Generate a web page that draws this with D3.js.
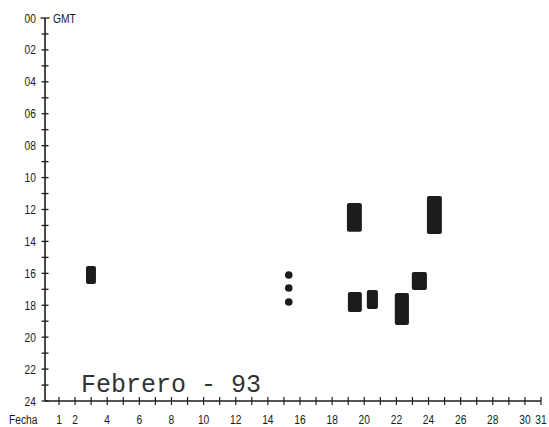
<!DOCTYPE html>
<html>
<head>
<meta charset="utf-8">
<script src="https://cdn.jsdelivr.net/npm/d3@7"></script>
<style>
  html, body { margin: 0; padding: 0; background: #fff; }
  svg { display: block; }
  .lbl { font-family: "Liberation Sans", Arial, sans-serif; font-size: 12.5px; fill: #1a1a1a; }
  .title { font-family: "Liberation Mono", "DejaVu Sans Mono", monospace; font-size: 25px; fill: #333; }
</style>
</head>
<body>
<svg id="chart" width="549" height="427"></svg>
<script>
// Observation periods, February 1993 (day of month, GMT hours)
const blockDayFrom  = [2.68, 18.92, 23.9, 18.98, 20.16, 21.9, 22.96];
const blockDayTo    = [3.30, 19.85, 24.83, 19.85, 20.85, 22.78, 23.9];
const blockHourFrom = [15.54, 11.6, 11.15, 17.17, 17.04, 17.23, 15.91];
const blockHourTo   = [16.67, 13.4, 13.53, 18.42, 18.23, 19.24, 17.04];

// Isolated single observations
const dotDays  = [15.3, 15.3, 15.3];
const dotHours = [16.1, 16.92, 17.8];

// Axis ticks and labels
const dayTicks   = d3.range(1, 32);
const dayLabels  = [1, 2, 4, 6, 8, 10, 12, 14, 16, 18, 20, 22, 24, 26, 28, 30, 31];
const hourTicks  = d3.range(0, 25);
const hourLabels = ["00","02","04","06","08","10","12","14","16","18","20","22","24"];

const titleText = "Febrero - 93";

const svg = d3.select("#chart");
const x = d3.scaleLinear().domain([1, 31]).range([59, 541]);
const y = d3.scaleLinear().domain([0, 24]).range([18, 401]);
const ink = "#1c1c1c";
const originDay = 0.13;   // where the hour axis meets the date axis
const squeeze = 0.82;     // narrow lettering for axis labels

// Axis lines
svg.append("line").attr("x1", x(originDay)).attr("x2", x(originDay)).attr("y1", y(0)).attr("y2", y(24))
  .attr("stroke", ink).attr("stroke-width", 1.6);
svg.append("line").attr("x1", x(originDay)).attr("x2", x(31)).attr("y1", y(24)).attr("y2", y(24))
  .attr("stroke", ink).attr("stroke-width", 1.6);

// Hour ticks (crossing the vertical axis)
svg.selectAll("line.ht").data(hourTicks).join("line")
  .attr("class", "ht")
  .attr("x1", d => x(originDay) - (d === 0 ? 4.5 : 3.5)).attr("x2", d => x(originDay) + (d === 0 ? 4.5 : 3.5))
  .attr("y1", d => y(d)).attr("y2", d => y(d))
  .attr("stroke", ink).attr("stroke-width", 1.3);

// Day ticks (crossing the horizontal axis)
svg.selectAll("line.dt").data(dayTicks).join("line")
  .attr("class", "dt")
  .attr("x1", d => x(d)).attr("x2", d => x(d))
  .attr("y1", y(24) - 4).attr("y2", y(24) + 4)
  .attr("stroke", ink).attr("stroke-width", 1.2);

// Hour labels
svg.selectAll("text.hl").data(hourLabels).join("text")
  .attr("class", "lbl hl")
  .attr("transform", d => `translate(36,${y(+d) + 4.5}) scale(${squeeze},1)`)
  .attr("text-anchor", "end")
  .text(d => d);

svg.append("text").attr("class", "lbl")
  .attr("transform", `translate(53,${y(0) + 4.5}) scale(${squeeze},1)`)
  .text("GMT");

// Day labels
svg.selectAll("text.dl").data(dayLabels).join("text")
  .attr("class", "lbl dl")
  .attr("transform", d => `translate(${x(d)},424) scale(${squeeze},1)`)
  .attr("text-anchor", "middle")
  .text(d => d);

svg.append("text").attr("class", "lbl")
  .attr("transform", `translate(9,424) scale(${squeeze},1)`)
  .text("Fecha");

// Observation blocks
svg.selectAll("rect.blk").data(blockDayFrom).join("rect")
  .attr("class", "blk")
  .attr("x", d => x(d))
  .attr("width", (d, i) => x(blockDayTo[i]) - x(d))
  .attr("y", (d, i) => y(blockHourFrom[i]))
  .attr("height", (d, i) => y(blockHourTo[i]) - y(blockHourFrom[i]))
  .attr("rx", 2)
  .attr("fill", ink);

// Single observations
svg.selectAll("circle.obs").data(dotDays).join("circle")
  .attr("class", "obs")
  .attr("cx", d => x(d))
  .attr("cy", (d, i) => y(dotHours[i]))
  .attr("r", 3.8)
  .attr("fill", ink);

// Title
svg.append("text").attr("class", "title")
  .attr("x", 81).attr("y", 392)
  .attr("xml:space", "preserve")
  .text(titleText);
</script>
</body>
</html>
